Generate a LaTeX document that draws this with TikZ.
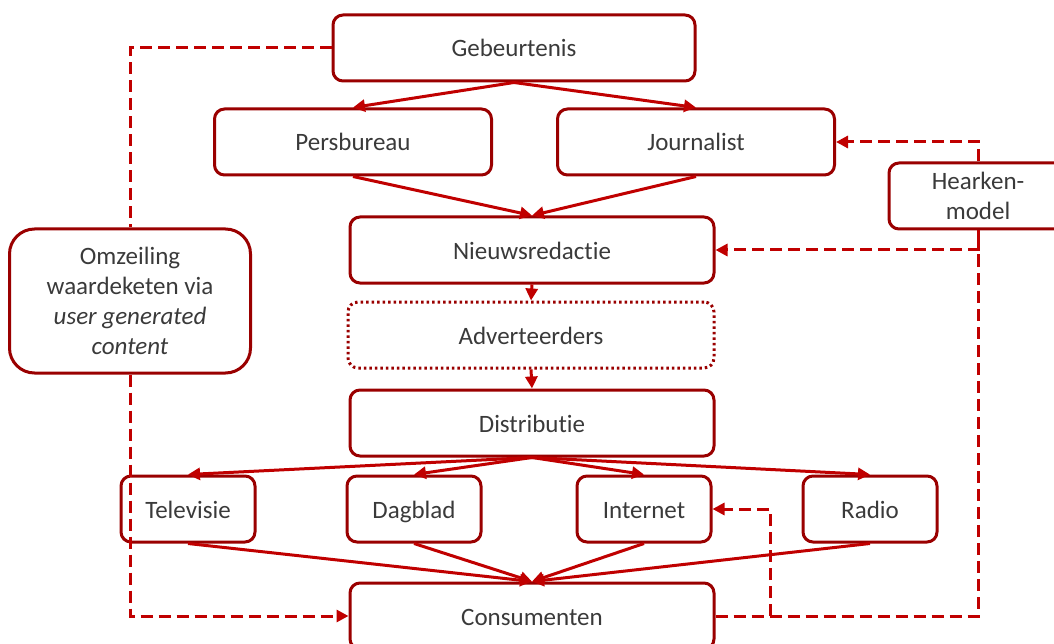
\documentclass[tikz,border=0pt]{standalone}
\usepackage{fontspec}
\setmainfont{Carlito}[Ligatures=NoCommon]
\usetikzlibrary{arrows.meta}
\definecolor{boxred}{HTML}{9A0000}
\definecolor{arrowred}{HTML}{C00000}
\definecolor{txtgray}{HTML}{3A3A3A}
\begin{document}
\begin{tikzpicture}[x=1pt, y=-1pt,
  box/.style={draw=boxred, line width=3pt, rounded corners=10pt, text=txtgray,
    font=\fontsize{25}{30}\selectfont, align=center, inner sep=0pt},
  onebox/.style={box, text height=20pt, text depth=2pt, minimum height=66pt},
  flow/.style={arrowred, line width=3pt, -{Triangle[length=12pt,width=12pt]}},
  link/.style={arrowred, line width=3pt, dash pattern=on 12pt off 6pt}]
  \useasboundingbox (0,0) rectangle (1054,644);

  % Value chain
  \node[onebox, minimum width=362pt] (geb) at (514,48) {Gebeurtenis};
  \node[onebox, minimum width=277pt] (per) at (353,142) {Persbureau};
  \node[onebox, minimum width=277pt] (jou) at (696,142) {Journalist};
  \node[onebox, minimum width=364pt] (nie) at (532,250) {Nieuwsredactie};
  \node[onebox, minimum width=366pt, dash pattern=on 2.5pt off 3pt] (adv) at (531,335) {Adverteerders};
  \node[onebox, minimum width=364pt] (dis) at (532,423) {Distributie};
  \node[onebox, minimum width=364pt] (con) at (532,616) {Consumenten};

  \draw[flow] (geb.south) -- (per.north);
  \draw[flow] (geb.south) -- (jou.north);
  \draw[flow] (per.south) -- (nie.north);
  \draw[flow] (jou.south) -- (nie.north);
  \draw[flow] (nie.south) -- (adv.north);
  \draw[flow] (adv.south) -- (dis.north);

  % Media
  \foreach \x/\name/\label in {188/tv/Televisie, 414/dag/Dagblad, 644/int/Internet, 870/rad/Radio} {
    \node[onebox, minimum width=134pt] (\name) at (\x,509) {\label};
    \draw[flow] (dis.south) -- (\name.north);
    \draw[flow] (\name.south) -- (con.north);
  }

  % Side routes
  \node[box, rounded corners=25pt, minimum width=241pt, minimum height=144pt] (omz) at (130,301)
    {Omzeiling\\waardeketen via\\\textit{user generated}\\\textit{content}};
  \node[box, minimum width=178pt, minimum height=66pt] (hea) at (978,196) {Hearken-\\model};

  \draw[link] (geb.west) -| (omz.north);
  \draw[link, -{Triangle[length=12pt,width=12pt]}] (omz.south) |- (con.west);
  \draw[link] (con.east) -| (hea.south);
  \draw[link, -{Triangle[length=12pt,width=12pt]}] (hea.north) |- (jou.east);
  \draw[link, -{Triangle[length=12pt,width=12pt]}] (hea.south) |- (nie.east);
  \coordinate (turn) at (770,616);
  \draw[link, -{Triangle[length=12pt,width=12pt]}] (turn) |- (int.east);
\end{tikzpicture}
\end{document}
